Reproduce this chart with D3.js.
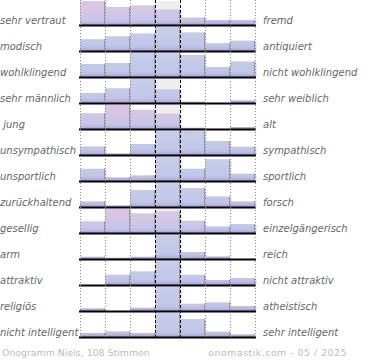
<!DOCTYPE html>
<html><head><meta charset="utf-8">
<script src="https://cdn.jsdelivr.net/npm/d3@7"></script>
<style>body{margin:0;background:#fff}svg{display:block}text{white-space:pre}</style>
</head><body>
<script>
const leftLabels = ["sehr vertraut","modisch","wohlklingend","sehr männlich"," jung","unsympathisch","unsportlich","zurückhaltend","gesellig","arm","attraktiv","religiös","nicht intelligent"];
const rightLabels = ["fremd","antiquiert","nicht wohlklingend","sehr weiblich","alt","sympathisch","sportlich","forsch","einzelgängerisch","reich","nicht attraktiv","atheistisch","sehr intelligent"];
const bins = [1,2,3,4,5,6,7];
const values = [
  [24,18,19.5,15.5,7.5,5,5],
  [12,15,18,24.5,19,8,10.6],
  [13,14,24,24,22,10,15.6],
  [10,14.7,24,13.7,1.3,0,2.7],
  [16,24.5,19.6,15.6,1.3,0,2],
  [8.6,1.6,11,24,24,14,8.3],
  [12.3,3.7,5.7,24,12.3,21.7,7.3],
  [5.6,1.6,17,24,19,10.6,5.6],
  [11.6,24,19.6,21.6,12.3,6.6,9],
  [2.3,1.3,2.3,24,7,2.6,0],
  [0,10.3,13.7,24,10.3,5,7],
  [2.7,0,3.3,24,7.3,8.7,5],
  [4,5.7,4,24,18,5.4,2.7]
];
// pink share of each bar's top (0 = blue, 1 = pink)
const pinkShare = [
  [1,0.8,0.8,0.5,0.2,0,0],
  [0,0,0,0,0,0,0],
  [0,0,0,0,0,0,0],
  [0,0,0,0,0,0,0],
  [0.6,1,0.8,0.7,0,0,0],
  [0,0,0,0,0,0,0],
  [0,0,0,0,0,0,0],
  [0,0,0,0,0,0,0],
  [0.3,1,0.7,0.8,0.3,0,0],
  [0,0,0,0,0,0,0],
  [0,0,0,0,0,0,0],
  [0,0,0,0,0,0,0],
  [0,0,0,0,0,0,0]
];
const footerLeft = "Onogramm Niels, 108 Stimmen";
const footerRight = "onomastik.com - 05 / 2025";

const W = 370, H = 360;
const svg = d3.select("body").append("svg").attr("width", W).attr("height", H);
const defs = svg.append("defs");
const grad = defs.append("linearGradient").attr("id","bg").attr("gradientUnits","userSpaceOnUse")
  .attr("x1",0).attr("x2",0).attr("y1",0).attr("y2",24);
[[0,"#c8cdea"],[0.8,"#c0c6e8"],[0.9,"#b8b6e0"],[1,"#a89cd0"]].forEach(s=>grad.append("stop").attr("offset",s[0]).attr("stop-color",s[1]));
const pg = defs.append("linearGradient").attr("id","pk").attr("x1",0).attr("x2",0).attr("y1",0).attr("y2",1);
[[0,"#e0c4e4",1],[0.55,"#d8c4e6",0.6],[1,"#c8c6e8",0]].forEach(s=>pg.append("stop").attr("offset",s[0]).attr("stop-color",s[1]).attr("stop-opacity",s[2]));

const x = d3.scaleBand().domain(bins).range([80,255]).padding(0);
const row = d3.scaleBand().domain(d3.range(leftLabels.length)).range([0,338]).padding(0);
const rowH = 24;

const rows = svg.selectAll("g.row").data(values).join("g").attr("class","row")
  .attr("transform",(d,i)=>`translate(0,${row(i)+1})`);

rows.append("rect").attr("x",x(4)).attr("y",0).attr("width",x.bandwidth()).attr("height",rowH).attr("fill","#eeeeee");

rows.each(function(vals,i){
  const g = d3.select(this);
  const y = d3.scaleLinear().domain([0,d3.max(vals)]).range([rowH,0]);
  const data = vals.map((v,j)=>({v,b:bins[j],p:pinkShare[i][j]})).filter(d=>d.v>0);
  const bars = g.selectAll("g.bar").data(data).join("g").attr("class","bar");
  bars.append("rect").attr("x",d=>x(d.b)+x.bandwidth()).attr("y",d=>y(d.v)+1)
    .attr("width",1.5).attr("height",d=>rowH-y(d.v)-1).attr("fill","#dddddd");
  bars.append("rect").attr("x",d=>x(d.b)).attr("y",d=>y(d.v))
    .attr("width",x.bandwidth()).attr("height",d=>rowH-y(d.v)).attr("fill","url(#bg)");
  bars.filter(d=>d.p>0).append("rect").attr("x",d=>x(d.b)).attr("y",d=>y(d.v))
    .attr("width",x.bandwidth()).attr("height",d=>rowH-y(d.v)).attr("fill","url(#pk)").attr("opacity",d=>d.p);
  bars.append("line").attr("x1",d=>x(d.b)+x.bandwidth()-0.5).attr("x2",d=>x(d.b)+x.bandwidth()-0.5)
    .attr("y1",d=>y(d.v)).attr("y2",rowH).attr("stroke","#999").attr("stroke-width",1);
});

svg.selectAll("line.grid").data([1,2,3,6,7,8]).join("line")
  .attr("x1",b=>Math.round(b<=7?x(b):x(7)+x.bandwidth())+0.5).attr("x2",b=>Math.round(b<=7?x(b):x(7)+x.bandwidth())+0.5)
  .attr("y1",0).attr("y2",339).attr("stroke","#888").attr("stroke-width",1).attr("stroke-dasharray","1,2");
svg.selectAll("line.mid").data([4,5]).join("line")
  .attr("x1",b=>x(b)+0.5).attr("x2",b=>x(b)+0.5).attr("y1",0).attr("y2",339)
  .attr("stroke","#000").attr("stroke-width",1).attr("stroke-dasharray","3,2");

rows.append("line").attr("x1",x(1)-1).attr("x2",x(7)+x.bandwidth()+1).attr("y1",rowH+0.5).attr("y2",rowH+0.5)
  .attr("stroke","#000").attr("stroke-width",2);

rows.append("text").attr("x",0).attr("y",rowH-1).text((d,i)=>leftLabels[i])
  .attr("font-family","DejaVu Sans").attr("font-style","italic").attr("font-size",10).attr("fill","#666");
rows.append("text").attr("x",263).attr("y",rowH-1).text((d,i)=>rightLabels[i])
  .attr("font-family","DejaVu Sans").attr("font-style","italic").attr("font-size",10).attr("fill","#666");

svg.append("text").attr("x",2).attr("y",356).text(footerLeft)
  .attr("font-family","DejaVu Sans").attr("font-size",9.4).attr("fill","#bbb");
svg.append("text").attr("x",347).attr("y",356).attr("text-anchor","end").text(footerRight)
  .attr("font-family","DejaVu Sans").attr("font-size",9.4).attr("letter-spacing",0.5).attr("fill","#bbb");
</script>
</body></html>
